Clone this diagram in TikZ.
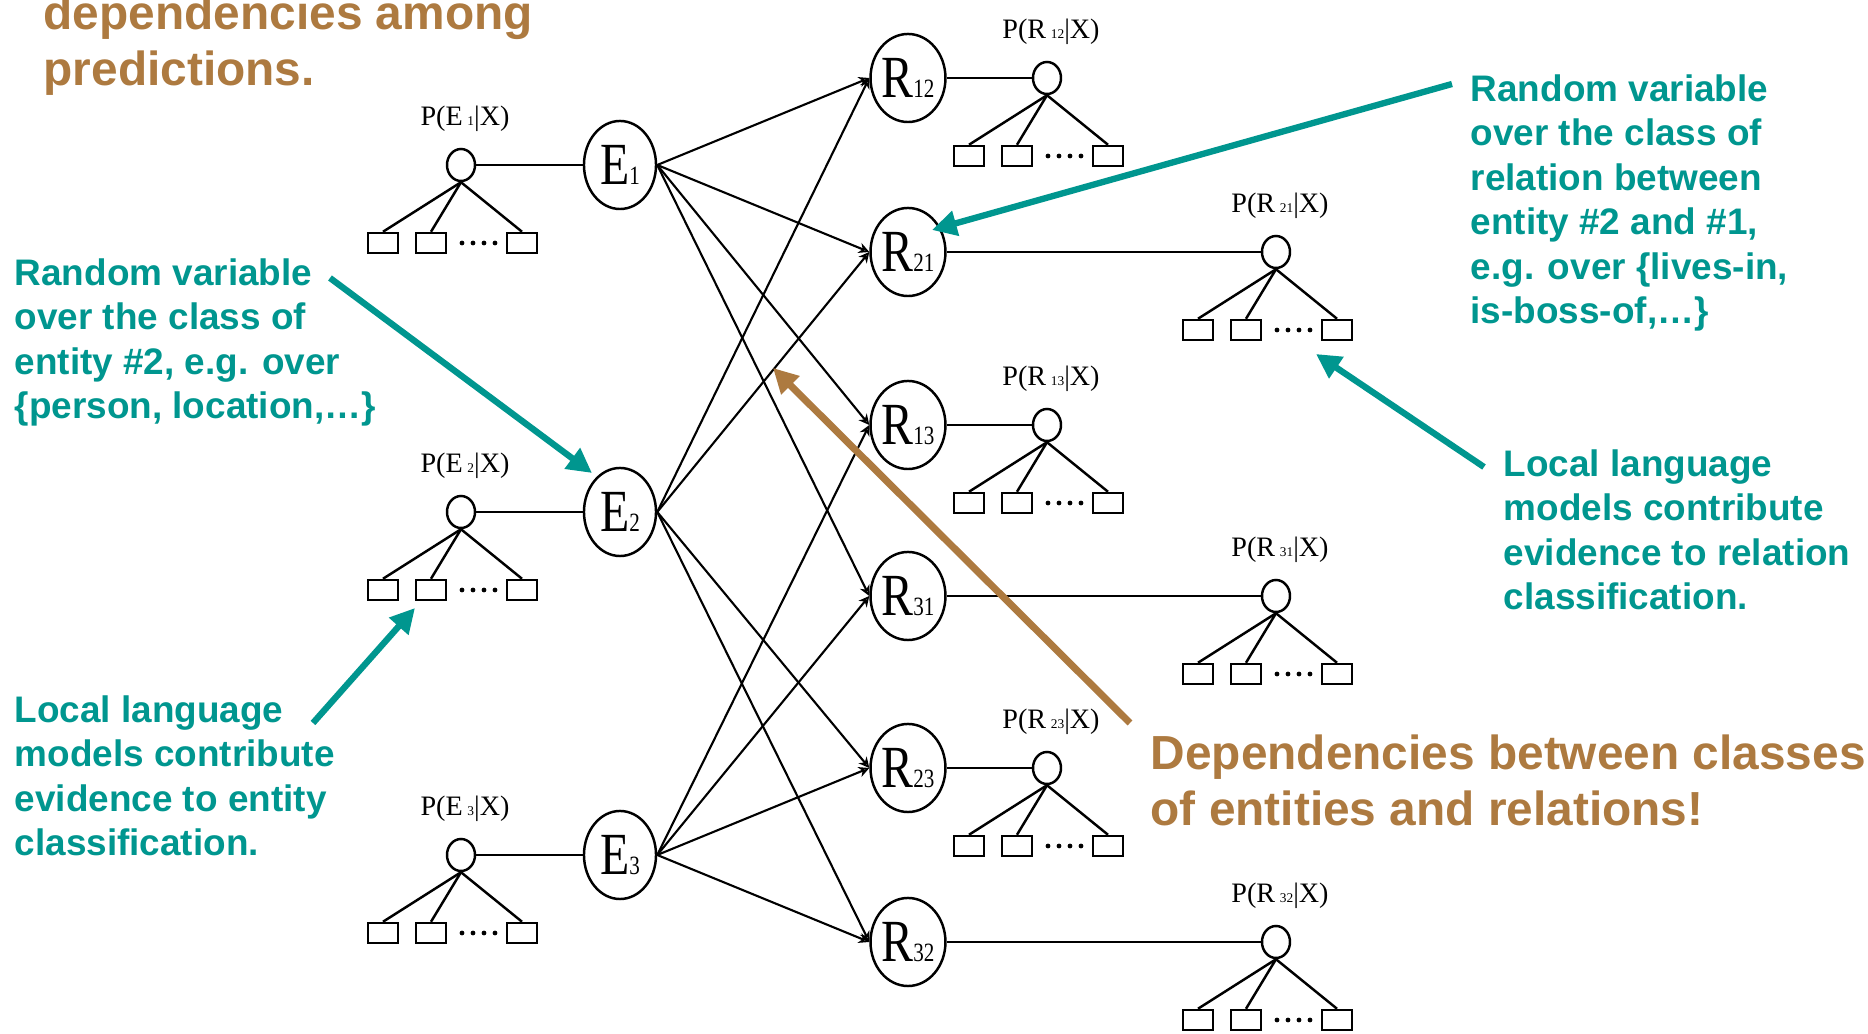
\documentclass[tikz,border=0pt]{standalone}
\usepackage{fontspec}
\setmainfont{Liberation Serif}
\setsansfont{Liberation Sans}
\usetikzlibrary{shapes.geometric,arrows.meta}
\definecolor{noteteal}{RGB}{0,150,143}
\definecolor{notebrown}{RGB}{173,122,64}
\newcommand{\vname}[2]{\scalebox{0.8}[1]{\fontsize{17}{17}\selectfont #1{\fontsize{7.5}{7.5}\selectfont #2}}}
\newcommand{\pname}[2]{\fontsize{8}{8}\selectfont P(#1\,{\fontsize{3.8}{3.8}\selectfont #2}|X)}
\tikzstyle{var} = [draw, ellipse, line width=0.7pt, minimum width=0.72cm, minimum height=0.88cm, inner sep=0pt]
\tikzstyle{prob} = [draw, ellipse, line width=0.7pt, minimum width=0.28cm, minimum height=0.32cm, inner sep=0pt]
\tikzstyle{feat} = [draw, rectangle, line width=0.7pt, minimum width=0.30cm, minimum height=0.20cm, inner sep=0pt]
\tikzstyle{dep} = [draw, line width=0.6pt, -{Stealth[open, length=3pt, width=3pt]}]
\tikzstyle{note} = [font=\sffamily\bfseries\fontsize{10.5}{12.66}\selectfont, text=noteteal, align=left, anchor=base west, inner sep=0pt]
\tikzstyle{claim} = [font=\sffamily\bfseries\fontsize{13.6}{16.2}\selectfont, text=notebrown, align=left, anchor=base west, inner sep=0pt]
\tikzstyle{pointer} = [draw=noteteal, line width=1.8pt, -{Triangle[length=7pt, width=7pt]}]

\begin{document}
\begin{tikzpicture}[x=0.01cm, y=-0.01cm]
\useasboundingbox (0,0) rectangle (1868,1034);
\clip (0,0) rectangle (1868,1034);

\node[var] (e1)  at (620,165) {\vname{E}{1}};
\node[var] (e2)  at (620,512) {\vname{E}{2}};
\node[var] (e3)  at (620,855) {\vname{E}{3}};
\node[var] (r12) at (908, 78) {\vname{R}{12}};
\node[var] (r21) at (908,252) {\vname{R}{21}};
\node[var] (r13) at (908,425) {\vname{R}{13}};
\node[var] (r31) at (908,596) {\vname{R}{31}};
\node[var] (r23) at (908,768) {\vname{R}{23}};
\node[var] (r32) at (908,942) {\vname{R}{32}};

\foreach \n/\x/\y/\v/\s in {e1/461/165/E/1, e2/461/512/E/2, e3/461/855/E/3,
    r12/1047/78/R/12, r21/1276/252/R/21, r13/1047/425/R/13,
    r31/1276/596/R/31, r23/1047/768/R/23, r32/1276/942/R/32} {
  \node[prob] (p\n) at (\x,\y) {};
  \node (p\n-l) at (\x+4,\y-46) {\pname{\v}{\s}};
  \node[feat] (p\n-a) at (\x-78,\y+78) {};
  \node[feat] (p\n-b) at (\x-30,\y+78) {};
  \node[feat] (p\n-c) at (\x+61,\y+78) {};
  \foreach \k in {0,...,3}
    \fill (\x+1+\k*11,\y+78) circle (0.024cm);
  \draw[line width=0.7pt] (p\n.south) -- (p\n-a.north);
  \draw[line width=0.7pt] (p\n.south) -- (p\n-b.north);
  \draw[line width=0.7pt] (p\n.south) -- (p\n-c.north);
  \draw[line width=0.7pt] (p\n) -- (\n);
}

\foreach \e/\r in {e1/r12, e1/r21, e1/r13, e1/r31, e2/r12, e2/r21,
    e2/r23, e2/r32, e3/r13, e3/r31, e3/r23, e3/r32}
  \draw[dep] (\e.east) -- (\r.west);

\node[claim] (title) at (43,86) {dependencies among\\predictions.};
\node[note] (entvar) at (14,419) {Random variable\\over the class of\\entity \#2, e.g. over\\\{person, location,…\}};
\node[note] (entlm) at (14,856) {Local language\\models contribute\\evidence to entity\\classification.};
\node[note] (relvar) at (1470,324) {Random variable\\over the class of\\relation between\\entity \#2 and \#1,\\e.g. over \{lives-in,\\is-boss-of,…\}};
\node[note] (rellm) at (1503,610) {Local language\\models contribute\\evidence to relation\\classification.};
\node[claim] (deps) at (1150,826) {Dependencies between classes\\of entities and relations!};

\coordinate (entvar-from) at (330,278);
\coordinate (entlm-from) at (313,723);
\coordinate (relvar-from) at (1452,84);
\coordinate (rellm-from) at (1484,467);
\coordinate (deps-from) at (1130,723);
\coordinate (crossing) at (773,368);

\draw[pointer] (entvar-from) -- ([shift={(-28,-39)}]e2.center);
\draw[pointer] (entlm-from) -- ([shift={(-16,18)}]pe2-b.center);
\draw[pointer] (relvar-from) -- ([shift={(24,-22)}]r21.center);
\draw[pointer] (rellm-from) -- ([shift={(40,102)}]pr21.center);
\draw[pointer, draw=notebrown, line width=2pt] (deps-from) -- (crossing);
\end{tikzpicture}
\end{document}
